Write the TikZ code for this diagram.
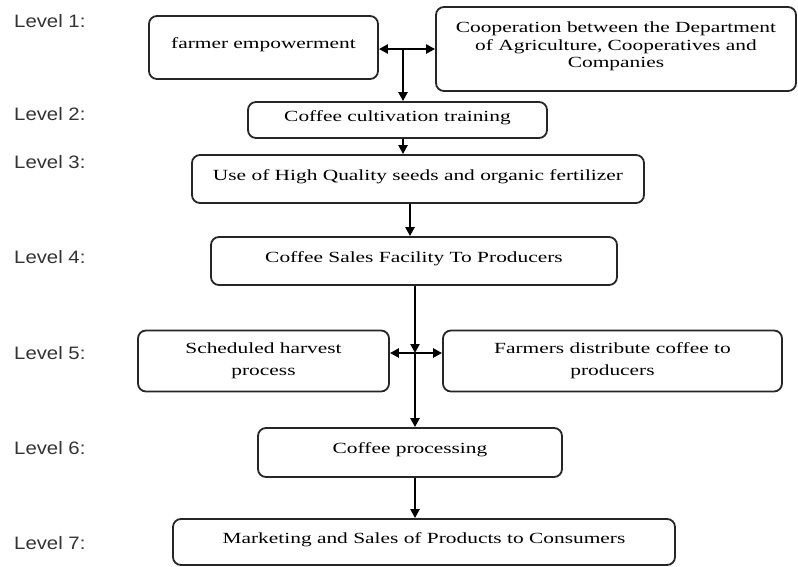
\documentclass[tikz,border=0pt]{standalone}
\usepackage{fontspec}
\setmainfont{Liberation Serif}[FakeStretch=1.38]
\newfontfamily\lvfont{Liberation Sans}[FakeStretch=1.13]
\usetikzlibrary{arrows.meta}
\begin{document}
\begin{tikzpicture}[x=1pt,y=-1pt,
  box/.style={draw=black!85, line width=1.8pt, rounded corners=8pt, inner sep=0pt,
    align=center, font=\fontsize{15.5}{17.5}\selectfont},
  single/.style={text height=10pt, text depth=8pt},
  wide/.style={font=\fontsize{15.5}{22}\selectfont},
  lvl/.style={anchor=west, inner sep=0pt, text=black!80, font=\lvfont\fontsize{18}{20}\selectfont},
  conn/.style={line width=2.6pt, -{Triangle[length=9pt,width=9pt]}},
  bconn/.style={line width=2.6pt, {Triangle[length=9pt,width=9pt]}-{Triangle[length=9pt,width=9pt]}}
]
\useasboundingbox (0,0) rectangle (798,566);
% level labels
\node[lvl] (l1) at (14,21) {Level 1:};
\node[lvl] (l2) at (14,114) {Level 2:};
\node[lvl] (l3) at (14,162) {Level 3:};
\node[lvl] (l4) at (14,257) {Level 4:};
\node[lvl] (l5) at (14,353) {Level 5:};
\node[lvl] (l6) at (14,448) {Level 6:};
\node[lvl] (l7) at (14,543) {Level 7:};
% boxes
\node[box,single,minimum width=229pt,minimum height=63pt] (fe) at (263.5,47.5) {farmer empowerment};
\node[box,text depth=8pt,minimum width=360pt,minimum height=84pt] (coop) at (616,49)
  {Cooperation between the Department\\of Agriculture, Cooperatives and\\Companies};
\node[box,single,minimum width=299pt,minimum height=36pt] (cult) at (397.5,120) {Coffee cultivation training};
\node[box,single,minimum width=452pt,minimum height=48pt] (use) at (418,179) {Use of High Quality seeds and organic fertilizer};
\node[box,single,minimum width=406pt,minimum height=48pt] (sales) at (414,261) {Coffee Sales Facility To Producers};
\node[box,wide,minimum width=251pt,minimum height=61pt] (sched) at (263.5,361) {Scheduled harvest\\process};
\node[box,wide,minimum width=339pt,minimum height=61pt] (farm) at (612.5,361) {Farmers distribute coffee to\\producers};
\node[box,single,minimum width=304pt,minimum height=49pt] (proc) at (410,452.5) {Coffee processing};
\node[box,single,minimum width=502pt,minimum height=46pt] (mkt) at (424,542) {Marketing and Sales of Products to Consumers};
% junctions
\coordinate (j1) at (403,49);
\coordinate (c2) at (403,0);
\coordinate (c3) at (410,0);
\coordinate (j2) at (415,353);
% connectors
\draw[bconn] (fe.east |- j1) -- (coop.west |- j1);
\draw[conn] (j1) -- (cult.north -| j1);
\draw[conn] (cult.south -| c2) -- (use.north -| c2);
\draw[conn] (use.south -| c3) -- (sales.north -| c3);
\draw[conn] (sales.south -| j2) -- (j2);
\draw[bconn] (sched.east |- j2) -- (farm.west |- j2);
\draw[conn] (j2) -- (proc.north -| j2);
\draw[conn] (proc.south -| j2) -- (mkt.north -| j2);
\end{tikzpicture}
\end{document}
